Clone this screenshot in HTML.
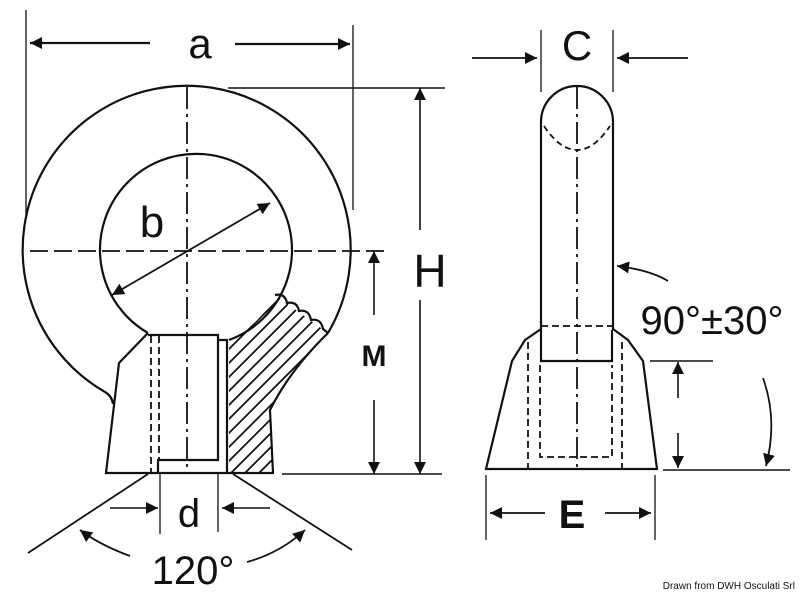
<!DOCTYPE html>
<html><head><meta charset="utf-8"><style>
html,body{margin:0;padding:0;background:#fff;}
svg{display:block;}
text{font-family:"Liberation Sans",sans-serif;fill:#111;}
</style></head><body>
<svg width="800" height="592" viewBox="0 0 800 592" xmlns="http://www.w3.org/2000/svg">
<defs>
<marker id="ah" viewBox="0 0 10 10" refX="10" refY="5" markerWidth="24" markerHeight="12" markerUnits="userSpaceOnUse" orient="auto-start-reverse">
<path d="M0,0 L10,5 L0,10 z" fill="#111"/></marker>
<clipPath id="hc"><path d="M229,340 A97,97 0 0 0 275,295 L328,333 Q290,370 270,410 L273,473 L229,473 Z"/></clipPath>
</defs>
<g stroke="#111" fill="none" stroke-width="2.2">
<path d="M105,392 A164,164 0 1 1 328,333"/>
<path d="M105,392 Q112,396 113,404"/>
<path d="M148,333 A96,96 0 1 1 229,340"/>
<path d="M148,335 L218,335 L218,460 L158,460 L158,473"/>
<path d="M218,340 L227,340 L227,473"/>
<path d="M148,333 L119,363 L106,473 L274,473"/>
<path d="M275,295 q10,-2 12,8 q10,-2 12,8 q10,-2 12,9 q10,-2 12,9 l5,4"/>
<path d="M328,333 Q290,370 270,410 L273,473"/>
<g clip-path="url(#hc)" stroke-width="1.8">
<path d="M220,470 L330,360 M220,456 L330,346 M220,442 L330,332 M220,428 L330,318 M220,414 L330,304 M220,400 L330,290 M220,386 L330,276 M220,372 L330,262 M220,358 L330,248 M220,484 L330,374 M220,498 L330,388 M220,512 L330,402"/>
</g>
<path d="M151,336 V473 M159,336 V460" stroke-dasharray="7,4" stroke-width="1.8"/>
<path d="M187,87 V470" stroke-dasharray="22,5,3,5" stroke-width="1.8"/>
<path d="M30,251 H390" stroke-dasharray="18,6" stroke-width="1.8"/>
<path d="M26,10 V215 M353,25 V210" stroke-width="1.3"/>
<path d="M150,43 H30" marker-end="url(#ah)"/>
<path d="M235,44 H350" marker-end="url(#ah)"/>
<path d="M228,88 H445 M282,474 H442" stroke-width="1.6"/>
<path d="M420,230 V88" marker-end="url(#ah)" stroke-width="1.6"/>
<path d="M420,300 V474" marker-end="url(#ah)" stroke-width="1.6"/>
<path d="M374,315 V251" marker-end="url(#ah)" stroke-width="1.6"/>
<path d="M374,400 V474" marker-end="url(#ah)" stroke-width="1.6"/>
<path d="M112,295 L270,203" marker-start="url(#ah)" marker-end="url(#ah)" stroke-width="1.8"/>
<path d="M160,474 V534 M218,474 V532" stroke-width="1.3"/>
<path d="M110,508 H158" marker-end="url(#ah)" stroke-width="1.6"/>
<path d="M270,508 H222" marker-end="url(#ah)" stroke-width="1.6"/>
<path d="M148,474 L28,553 M233,474 L352,550" stroke-width="1.8"/>
<path d="M130,556 Q100,545 80,530" marker-end="url(#ah)" stroke-width="1.8"/>
<path d="M247,562 Q280,553 305,530" marker-end="url(#ah)" stroke-width="1.8"/>
<path d="M541,330 V122 A36,36 0 0 1 613,122 V330"/>
<path d="M544,126 Q560,150 577,150 Q594,150 610,126" stroke-dasharray="6,4" stroke-width="1.8"/>
<path d="M577,87 V470" stroke-dasharray="22,5,3,5" stroke-width="1.8"/>
<path d="M541,326 H613" stroke-dasharray="7,4" stroke-width="1.8"/>
<path d="M541,330 V361 H612 V330"/>
<path d="M541,329 L525,340 L512,361 L486,469 H657 L643,361 L628,340 L613,329"/>
<path d="M528,342 V469 M622,342 V469 M540,365 V457 H612 V365" stroke-dasharray="7,4" stroke-width="1.8"/>
<path d="M541,30 V92 M613,30 V92" stroke-width="1.3"/>
<path d="M472,58 H537" marker-end="url(#ah)" stroke-width="1.8"/>
<path d="M688,58 H617" marker-end="url(#ah)" stroke-width="1.8"/>
<path d="M668,281 Q650,270 617,266" marker-end="url(#ah)" stroke-width="1.8"/>
<path d="M650,361 H713 M663,470 H790" stroke-width="1.6"/>
<path d="M678,398 V362" marker-end="url(#ah)" stroke-width="1.6"/>
<path d="M678,433 V468" marker-end="url(#ah)" stroke-width="1.6"/>
<path d="M763,378 Q778,420 766,466" marker-end="url(#ah)" stroke-width="1.8"/>
<path d="M486,475 V540 M655,475 V540" stroke-width="1.3"/>
<path d="M545,513 H490" marker-end="url(#ah)" stroke-width="1.8"/>
<path d="M605,513 H651" marker-end="url(#ah)" stroke-width="1.8"/>
</g>
<text x="200" y="58" font-size="42" text-anchor="middle">a</text>
<text x="152" y="237" font-size="44" text-anchor="middle">b</text>
<text x="430" y="287" font-size="46" text-anchor="middle">H</text>
<text x="374" y="366" font-size="30" font-weight="bold" text-anchor="middle">M</text>
<text x="189" y="527" font-size="40" text-anchor="middle">d</text>
<text x="193" y="584" font-size="40" text-anchor="middle">120°</text>
<text x="577" y="60" font-size="42" text-anchor="middle">C</text>
<text x="712" y="334" font-size="40" text-anchor="middle">90°±30°</text>
<text x="572" y="528" font-size="40" font-weight="bold" text-anchor="middle">E</text>
<text x="795" y="589" font-size="10" text-anchor="end">Drawn from DWH Osculati Srl</text>
</svg>
</body></html>
